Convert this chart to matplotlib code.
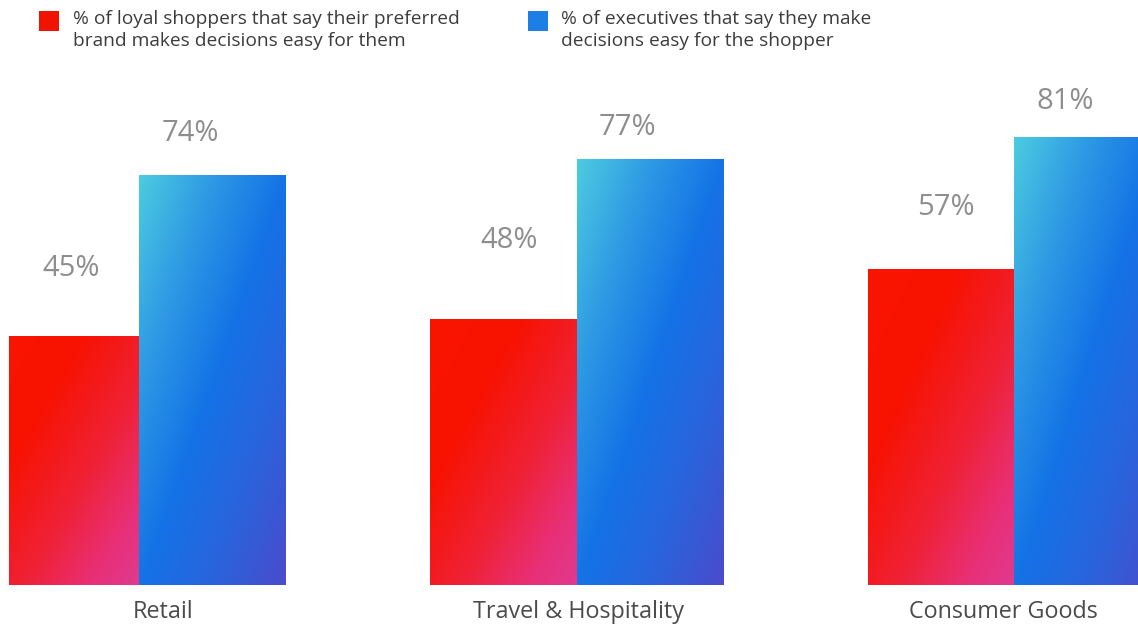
import numpy as np
import matplotlib.pyplot as plt
from matplotlib.colors import LinearSegmentedColormap
from matplotlib.patches import Rectangle

plt.rcParams['font.family'] = ['Open Sans', 'DejaVu Sans']

# Data
categories = ['Retail', 'Travel & Hospitality', 'Consumer Goods']
shoppers = [45, 48, 57]
executives = [74, 77, 81]
legend_labels = ['% of loyal shoppers that say their preferred\nbrand makes decisions easy for them',
                 '% of executives that say they make\ndecisions easy for the shopper']

# gap between bar top and the value label, in axis units
shopper_gap = [12.2, 14.3, 11.3]
executive_gap = [7.6, 5.8, 6.4]
# horizontal nudge of category labels, in pixels
cat_shift = [24, 2, -11]

red_cmap = LinearSegmentedColormap.from_list(
    'red', [(0.0, '#fa1500'), (0.3, '#f81200'), (0.6, '#f02135'),
            (0.85, '#e8307a'), (1.0, '#e03a8e')])
blue_cmap = LinearSegmentedColormap.from_list(
    'blue', [(0.0, '#4ccbe0'), (0.25, '#2e9ae4'), (0.5, '#1473e6'),
             (0.75, '#2a63dc'), (1.0, '#4a4ccb')])

W, H = 1138, 626
fig = plt.figure(figsize=(W / 100, H / 100), dpi=100)
px = 5.53  # pixels per percent
bottom = 585
ax = fig.add_axes([9 / W, (H - bottom) / H, 1 - 9 / W, 95 * px / H])
ax.axis('off')

width = 0.334
x = np.arange(len(categories))


def gradient_bar(ax, x0, height, cmap):
    """Bar filled with a diagonal gradient (top-left to bottom-right of the bar)."""
    rect = Rectangle((x0, 0), width, height, facecolor='none', edgecolor='none')
    ax.add_patch(rect)
    u = np.linspace(0, 1, 80)[None, :]
    v = np.linspace(0, 1, 240)[:, None]  # 0 at top
    t = (u + v) / 2
    im = ax.imshow(t, cmap=cmap, extent=(x0, x0 + width, 0, height),
                   origin='upper', aspect='auto', interpolation='bilinear',
                   vmin=0, vmax=1)
    im.set_clip_path(rect)
    im.set_clip_box(ax.bbox)


for i in range(len(categories)):
    gradient_bar(ax, x[i] - width, shoppers[i], red_cmap)
    gradient_bar(ax, x[i], executives[i], blue_cmap)
    ax.text(x[i] - width / 2 + 0.012, shoppers[i] + shopper_gap[i], f'{shoppers[i]}%',
            ha='center', va='center', fontsize=21, color='#8e8e8e')
    ax.text(x[i] + width / 2 - 0.05, executives[i] + executive_gap[i], f'{executives[i]}%',
            ha='center', va='center', fontsize=21, color='#8e8e8e')

ax.set_xlim(-0.297, 2.283)
ax.set_ylim(0, 95)

for i, cat in enumerate(categories):
    cx = ax.transData.transform((x[i], 0))[0] + cat_shift[i]
    fig.text(cx / W, 1 - 612 / H, cat, ha='center', va='center',
             fontsize=16.8, color='#4b4b4b')

# Legend drawn by hand
for lx, tx, col, lab in [(39, 73, '#f01400', legend_labels[0]),
                         (528, 561, '#1c7fe6', legend_labels[1])]:
    fig.patches.append(Rectangle((lx / W, 1 - 31 / H), 20 / W, 20 / H,
                                 transform=fig.transFigure, facecolor=col,
                                 edgecolor='none'))
    fig.text(tx / W, 1 - 30 / H, lab, ha='left', va='center', fontsize=13.8,
             color='#3c3c3c', linespacing=1.3)

fig.savefig('out.png', dpi=100)
